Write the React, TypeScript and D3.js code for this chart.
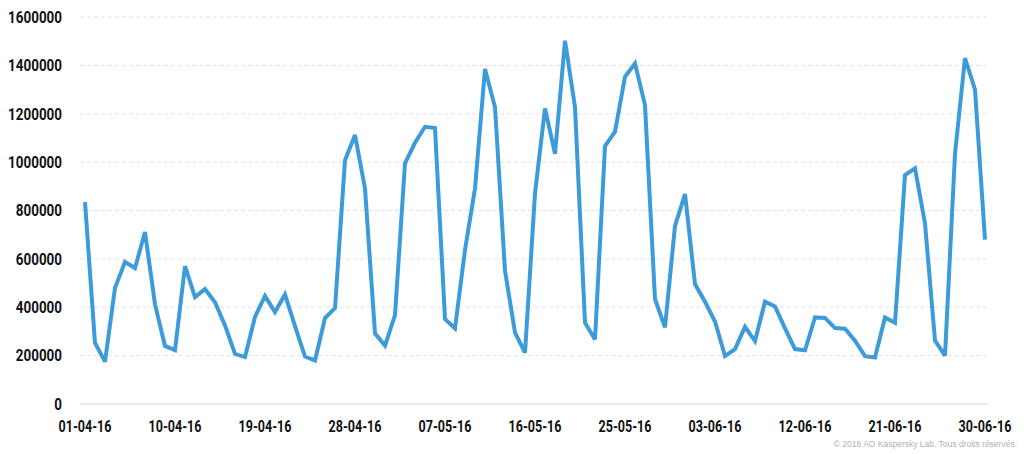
import React from 'react';
import * as d3 from 'd3';

const startDate = new Date(2016, 3, 1);
const dayCount = 91;

const values = [
  835000, 252000, 175000, 480000, 587000, 562000, 711000, 412000, 240000, 223000,
  570000, 442000, 475000, 421000, 325000, 207000, 194000, 360000, 447000, 380000,
  453000, 322000, 196000, 180000, 355000, 396000, 1008000, 1112000, 891000, 292000,
  241000, 367000, 995000, 1080000, 1146000, 1141000, 351000, 313000, 637000, 891000,
  1385000, 1227000, 551000, 295000, 212000, 871000, 1222000, 1034000, 1502000, 1227000,
  336000, 267000, 1066000, 1126000, 1353000, 1408000, 1236000, 434000, 317000, 736000,
  868000, 496000, 423000, 341000, 198000, 227000, 319000, 260000, 423000, 403000,
  313000, 227000, 222000, 358000, 356000, 314000, 311000, 262000, 198000, 192000,
  358000, 336000, 946000, 974000, 747000, 262000, 200000, 1034000, 1430000, 1300000,
  680000,
];

const yTicks = [0, 200000, 400000, 600000, 800000, 1000000, 1200000, 1400000, 1600000];
const xTickIndexes = [0, 9, 18, 27, 36, 45, 54, 63, 72, 81, 90];
const copyright = '© 2016 AO Kaspersky Lab. Tous droits réservés.';

const dates = values.map((_, i) => d3.timeDay.offset(startDate, i)).slice(0, dayCount);
const fmt = d3.timeFormat('%d-%m-%y');

const App = () => {
  const width = 1024;
  const height = 454;
  const left = 85;
  const right = 985;

  const x = d3.scaleTime().domain([dates[0], dates[dates.length - 1]]).range([left, right]);
  const y = d3.scaleLinear().domain([0, 1600000]).range([404, 17]);

  const line = d3.line<number>()
    .x((_, i) => x(dates[i]))
    .y(d => y(d));

  // narrow bold labels: squeeze a regular font to the reference widths
  const labelFont = 'Roboto, "DejaVu Sans", sans-serif';
  const digitW = 7.7;

  return (
    <svg width={width} height={height} style={{ position: 'absolute', left: 0, top: 0, background: '#fff' }}>
      {/* grid */}
      {yTicks.map(t => (
        <line
          key={t}
          x1={80}
          x2={988}
          y1={y(t)}
          y2={y(t)}
          stroke={t === 0 ? '#e8e8e8' : '#e2e2e2'}
          strokeWidth={t === 0 ? 2 : 1}
          strokeDasharray={t === 0 ? undefined : '4,3'}
        />
      ))}
      {yTicks.map(t => {
        const s = String(t);
        return (
          <text
            key={'l' + t}
            x={62}
            y={y(t)}
            dy="0.36em"
            textAnchor="end"
            fontFamily={labelFont}
            fontWeight="bold"
            fontSize={16}
            fill="#111"
            textLength={s.length * digitW}
            lengthAdjust="spacingAndGlyphs"
          >
            {s}
          </text>
        );
      })}
      {xTickIndexes.map(i => (
        <text
          key={'x' + i}
          x={x(dates[i])}
          y={432}
          textAnchor="middle"
          fontFamily={labelFont}
          fontWeight="bold"
          fontSize={16}
          fill="#111"
          textLength={53}
          lengthAdjust="spacingAndGlyphs"
        >
          {fmt(dates[i])}
        </text>
      ))}
      <path
        d={line(values) || ''}
        fill="none"
        stroke="#3d9bd9"
        strokeWidth={4}
        strokeLinejoin="miter"
        strokeMiterlimit={3}
      />
      <text x={1017} y={447} textAnchor="end" fontFamily="Liberation Sans, Arial, sans-serif" fontSize={8.5} fill="#b0b0b0">
        {copyright}
      </text>
    </svg>
  );
};

export default App;
